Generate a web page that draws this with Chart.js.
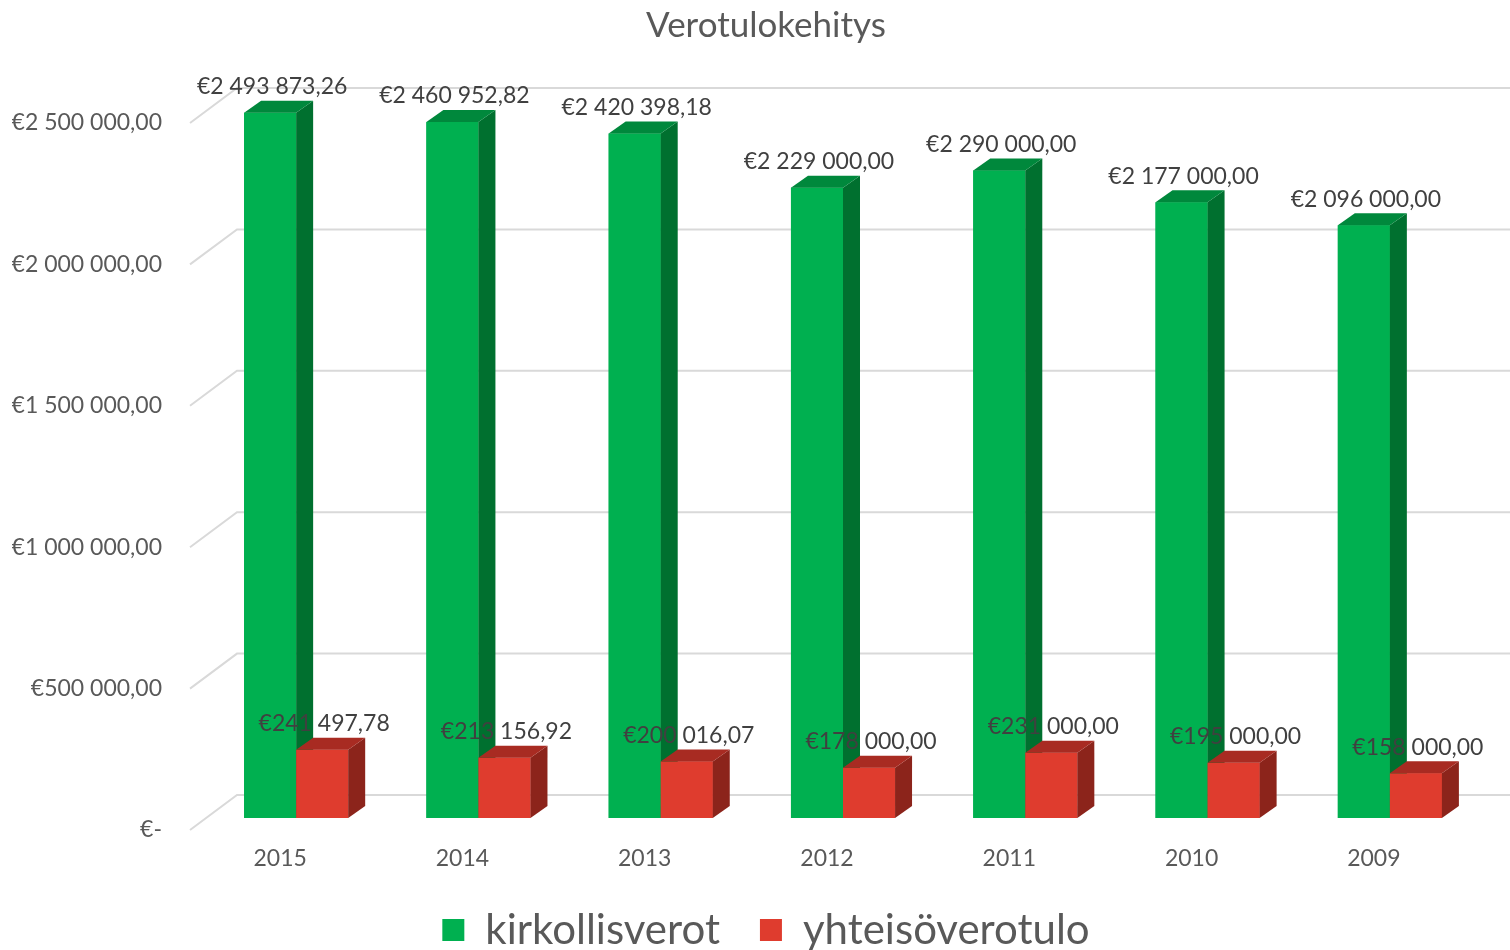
<!DOCTYPE html>
<html>
<head>
<meta charset="utf-8">
<title>Verotulokehitys</title>
<script src="https://cdn.jsdelivr.net/npm/chart.js@4.4.1/dist/chart.umd.min.js"></script>
<style>
  html, body { margin: 0; padding: 0; background: #fff; }
  canvas { display: block; }
</style>
</head>
<body>
<canvas id="taxCanvas" width="1510" height="950"></canvas>
<script>
// data
const years = ['2015', '2014', '2013', '2012', '2011', '2010', '2009'];
const kirkollisverot = [2493873.26, 2460952.82, 2420398.18, 2229000, 2290000, 2177000, 2096000];
const yhteisoverotulo = [241497.78, 213156.92, 200016.07, 178000, 231000, 195000, 158000];
const yTicks = [0, 500000, 1000000, 1500000, 2000000, 2500000];

const FONT = 'Lato, "Open Sans", sans-serif';
const TXT = '#595959';

// colours: front, side, top
const GREEN = ['#00B050', '#00702F', '#00883C'];
const RED = ['#DF3C2E', '#8C241B', '#A82B22'];

function euro(v) {
  const parts = v.toFixed(2).split('.');
  return '€' + parts[0].replace(/\B(?=(\d{3})+(?!\d))/g, ' ') + ',' + parts[1];
}

// depth of the bars, and of the floor / back wall
const DX = 17, DY = 12;

const bar3d = {
  id: 'bar3d',
  beforeDatasetsDraw(chart) {
    const ctx = chart.ctx;
    const ys = chart.scales.y;
    const left = chart.chartArea.left;
    ctx.save();
    ctx.strokeStyle = '#D9D9D9';
    ctx.lineWidth = 2;
    ys.ticks.forEach(t => {
      const py = ys.getPixelForValue(t.value);
      ctx.beginPath();
      ctx.moveTo(left - 15, py + 12);
      ctx.lineTo(left + 32, py - 23);
      ctx.lineTo(chart.width, py - 23);
      ctx.stroke();
    });
    ctx.restore();
  },
  afterDatasetsDraw(chart) {
    const ctx = chart.ctx;
    const cols = [GREEN, RED];
    ctx.save();
    years.forEach((y, i) => {
      [0, 1].forEach(d => {
        const el = chart.getDatasetMeta(d).data[i];
        const c = cols[d];
        const l = el.x - el.width / 2, r = el.x + el.width / 2;
        ctx.fillStyle = c[0];
        ctx.fillRect(l, el.y, r - l, el.base - el.y);
        ctx.fillStyle = c[1];
        ctx.beginPath();
        ctx.moveTo(r, el.y);
        ctx.lineTo(r + DX, el.y - DY);
        ctx.lineTo(r + DX, el.base - DY);
        ctx.lineTo(r, el.base);
        ctx.closePath();
        ctx.fill();
        ctx.fillStyle = c[2];
        ctx.beginPath();
        ctx.moveTo(l, el.y);
        ctx.lineTo(l + DX, el.y - DY);
        ctx.lineTo(r + DX, el.y - DY);
        ctx.lineTo(r, el.y);
        ctx.closePath();
        ctx.fill();
      });
    });
    // value labels
    ctx.fillStyle = '#404040';
    ctx.font = '23px ' + FONT;
    ctx.textAlign = 'center';
    ctx.textBaseline = 'middle';
    [kirkollisverot, yhteisoverotulo].forEach((arr, d) => {
      const meta = chart.getDatasetMeta(d);
      arr.forEach((v, i) => {
        const el = meta.data[i];
        ctx.fillText(euro(v), el.x + 2, el.y - 26);
      });
    });
    ctx.restore();
  }
};

new Chart(document.getElementById('taxCanvas'), {
  type: 'bar',
  data: {
    labels: years,
    datasets: [
      { label: 'kirkollisverot', data: kirkollisverot, backgroundColor: GREEN[0] },
      { label: 'yhteisöverotulo', data: yhteisoverotulo, backgroundColor: RED[0] }
    ]
  },
  options: {
    responsive: false,
    animation: false,
    devicePixelRatio: 1,
    categoryPercentage: 0.571,
    barPercentage: 1,
    layout: { padding: { left: 12, right: -10, top: 0, bottom: -11 } },
    plugins: {
      tooltip: { enabled: false },
      title: {
        display: true,
        text: 'Verotulokehitys',
        color: TXT,
        font: { family: FONT, size: 35, weight: 'normal' },
        padding: { top: 5, bottom: 64 }
      },
      legend: {
        position: 'bottom',
        labels: {
          color: TXT,
          boxWidth: 22,
          boxHeight: 22,
          padding: 40,
          font: { family: FONT, size: 42 }
        }
      }
    },
    scales: {
      x: {
        grid: { display: false, drawTicks: false },
        border: { display: false },
        afterFit: s => { s.height = 51; },
        ticks: { color: TXT, font: { family: FONT, size: 23 }, padding: 27, labelOffset: -16 }
      },
      y: {
        min: 0,
        max: 2500000,
        afterBuildTicks: s => { s.ticks = yTicks.map(v => ({ value: v })); },
        afterFit: s => { s.width = 193; },
        grid: { display: false, drawTicks: false },
        border: { display: false },
        ticks: {
          color: TXT,
          font: { family: FONT, size: 23 },
          padding: 43,
          labelOffset: 12,
          callback: v => v === 0 ? '€-' : euro(v)
        }
      },
      // empty right-hand axis, only keeps the gap on the right side
      y2: {
        position: 'right',
        afterFit: s => { s.width = 39; },
        grid: { display: false },
        border: { display: false },
        ticks: { display: false }
      }
    }
  },
  plugins: [bar3d]
});
</script>
</body>
</html>
